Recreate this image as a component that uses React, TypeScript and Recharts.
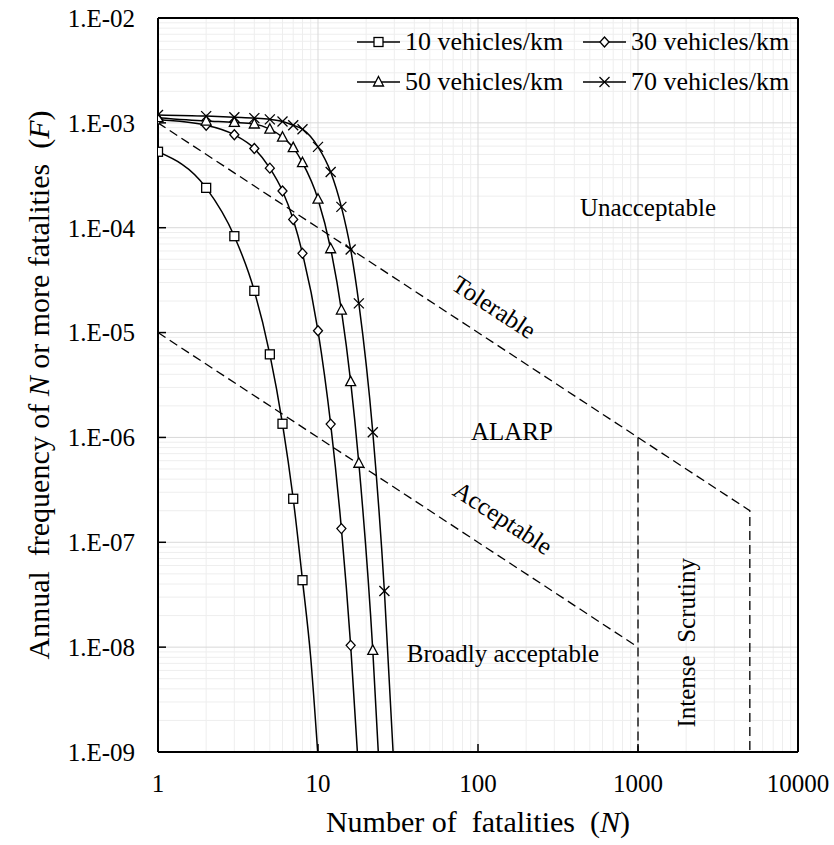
import React from 'react';
import {
  ComposedChart,
  Line,
  XAxis,
  YAxis,
  CartesianGrid,
  ReferenceLine,
  ReferenceDot,
  Legend,
  Label,
} from 'recharts';

const FONT = "Liberation Serif, Tinos, 'Times New Roman', Times, 'DejaVu Serif', serif";

// ---- axis ticks ----
const xTicks = [1, 10, 100, 1000, 10000];
const yTicks = [1e-9, 1e-8, 1e-7, 1e-6, 1e-5, 1e-4, 1e-3, 1e-2];

// ---- series: 10 vehicles/km ----
const n10 = [1, 2, 3, 4, 5, 6, 7, 8, 9, 10];
const f10 = [5.3e-4, 2.4e-4, 8.3e-5, 2.5e-5, 6.2e-6, 1.35e-6, 2.6e-7, 4.35e-8, 8e-9, 9e-10];
const mk10 = 8;

// ---- series: 30 vehicles/km ----
const n30 = [1, 2, 3, 4, 5, 6, 7, 8, 10, 12, 14, 16, 18];
const f30 = [1.07e-3, 9.5e-4, 7.7e-4, 5.7e-4, 3.7e-4, 2.24e-4, 1.2e-4, 5.7e-5, 1.04e-5, 1.34e-6, 1.35e-7, 1.04e-8, 6e-10];
const mk30 = 12;

// ---- series: 50 vehicles/km ----
const n50 = [1, 2, 3, 4, 5, 6, 7, 8, 10, 12, 14, 16, 18, 22, 24];
const f50 = [1.12e-3, 1.04e-3, 1.01e-3, 9.75e-4, 8.7e-4, 7.3e-4, 5.8e-4, 4.17e-4, 1.87e-4, 6.3e-5, 1.64e-5, 3.4e-6, 5.67e-7, 9.3e-9, 8e-10];
const mk50 = 14;

// ---- series: 70 vehicles/km ----
const n70 = [1, 2, 3, 4, 5, 6, 7, 8, 10, 12, 14, 16, 18, 22, 26, 30];
const f70 = [1.19e-3, 1.16e-3, 1.13e-3, 1.11e-3, 1.08e-3, 1.03e-3, 9.5e-4, 8.7e-4, 5.9e-4, 3.4e-4, 1.58e-4, 6.2e-5, 1.9e-5, 1.12e-6, 3.43e-8, 6e-10];
const mk70 = 15;

// ---- criterion lines ----
const tolN = [1, 5000, 5000];
const tolF = [1e-3, 2e-7, 1e-9];
const accN = [1, 1000];
const accF = [1e-5, 1e-8];
const scrN = [1000, 1000];
const scrF = [1e-6, 1e-9];

const seriesNames = ['10 vehicles/km', '30 vehicles/km', '50 vehicles/km', '70 vehicles/km'];

const build = (ns: number[], fs: number[], mk = 0) =>
  ns.map((n, i) => ({ n, f: fs[i], m: i < mk }));

const d10 = build(n10, f10, mk10);
const d30 = build(n30, f30, mk30);
const d50 = build(n50, f50, mk50);
const d70 = build(n70, f70, mk70);
const dTol = build(tolN, tolF);
const dAcc = build(accN, accF);
const dScr = build(scrN, scrF);

// gridline values
const minorX: number[] = [];
for (let d = 0; d < 4; d++) for (let k = 2; k <= 9; k++) minorX.push(k * Math.pow(10, d));
const majorX = [10, 100, 1000];
const minorY: number[] = [];
for (let e = -9; e < -2; e++) for (let k = 2; k <= 9; k++) minorY.push(k * Math.pow(10, e));
const majorY = [1e-8, 1e-7, 1e-6, 1e-5, 1e-4, 1e-3];

const SW = 1.3;

const Square = ({ cx, cy }: any) => (
  <rect x={cx - 4.5} y={cy - 4.5} width={9} height={9} fill="#fff" stroke="#000" strokeWidth={SW} />
);
const Diamond = ({ cx, cy }: any) => (
  <polygon
    points={`${cx},${cy - 5} ${cx + 4.5},${cy} ${cx},${cy + 5} ${cx - 4.5},${cy}`}
    fill="#fff"
    stroke="#000"
    strokeWidth={SW}
  />
);
const Triangle = ({ cx, cy }: any) => (
  <polygon
    points={`${cx},${cy - 5.5} ${cx + 5},${cy + 4} ${cx - 5},${cy + 4}`}
    fill="#fff"
    stroke="#000"
    strokeWidth={SW}
  />
);
const Cross = ({ cx, cy }: any) => (
  <g stroke="#000" strokeWidth={SW}>
    <line x1={cx - 5} y1={cy - 5} x2={cx + 5} y2={cy + 5} />
    <line x1={cx - 5} y1={cy + 5} x2={cx + 5} y2={cy - 5} />
  </g>
);

const shapes = [Square, Diamond, Triangle, Cross];

const makeDot = (Shape: any) => (props: any) => {
  const { cx, cy, payload, index } = props;
  if (!payload || !payload.m || cx == null || cy == null) return <g key={`e${index}`} />;
  return (
    <g key={`d${index}`}>
      <Shape cx={cx} cy={cy} />
    </g>
  );
};

const fmtY = (v: number) => {
  const e = Math.round(Math.log10(v));
  const s = Math.abs(e) < 10 ? `0${Math.abs(e)}` : `${Math.abs(e)}`;
  return `1.E${e < 0 ? '-' : '+'}${s}`;
};

const textLabel = (text: string, angle: number) => (props: any) => {
  const vb = props.viewBox || {};
  const x = (vb.x || 0) + (vb.width || 0) / 2;
  const y = (vb.y || 0) + (vb.height || 0) / 2;
  return (
    <text
      x={x}
      y={y}
      textAnchor="middle"
      dominantBaseline="central"
      style={{ fontFamily: FONT }}
      fontSize={25}
      fill="#000"
      transform={angle ? `rotate(${angle} ${x} ${y})` : undefined}
    >
      {text}
    </text>
  );
};

const XTitle = (props: any) => {
  const vb = props.viewBox;
  const x = vb.x + vb.width / 2;
  const y = vb.y + 80;
  return (
    <text x={x} y={y} textAnchor="middle" style={{ fontFamily: FONT }} fontSize={30} fill="#000">
      Number of{'\u00A0 '}fatalities{'\u00A0 '}(<tspan fontStyle="italic">N</tspan>)
    </text>
  );
};

const YTitle = (props: any) => {
  const vb = props.viewBox;
  const x = vb.x + 49;
  const y = vb.y + vb.height / 2;
  return (
    <text
      x={x}
      y={y}
      textAnchor="middle"
      style={{ fontFamily: FONT }}
      fontSize={30}
      fill="#000"
      transform={`rotate(-90 ${x} ${y})`}
    >
      Annual{'\u00A0 '}frequency of <tspan fontStyle="italic">N</tspan> or more fatalities{'\u00A0 '}(
      <tspan fontStyle="italic">F</tspan>)
    </text>
  );
};

const LegendContent = () => {
  const cols = [357, 583];
  const rows = [42, 82];
  return (
    <svg width={834} height={100} style={{ overflow: 'visible' }}>
      {seriesNames.map((name, i) => {
        const x0 = cols[i % 2];
        const y = rows[Math.floor(i / 2)];
        const Shape = shapes[i];
        return (
          <g key={name}>
            <line x1={x0} y1={y} x2={x0 + 43} y2={y} stroke="#000" strokeWidth={1.5} />
            <Shape cx={x0 + 21.5} cy={y} />
            <text x={x0 + 48} y={y + 8} style={{ fontFamily: FONT }} fontSize={26} fill="#000">
              {name}
            </text>
          </g>
        );
      })}
    </svg>
  );
};

const curve = (data: any[], Shape: any, key: string) => (
  <Line
    key={key}
    data={data}
    dataKey="f"
    type="monotone"
    stroke="#000"
    strokeWidth={1.5}
    dot={makeDot(Shape)}
    activeDot={false}
    isAnimationActive={false}
    legendType="none"
  />
);

const dashed = (data: any[], key: string) => (
  <Line
    key={key}
    data={data}
    dataKey="f"
    type="linear"
    stroke="#000"
    strokeWidth={1.3}
    strokeDasharray="9 5"
    dot={false}
    activeDot={false}
    isAnimationActive={false}
    legendType="none"
  />
);

const tickStyle = { fontFamily: FONT, fontSize: 25, fill: '#000' };

export default function App() {
  return (
    <div style={{ position: 'absolute', left: 0, top: 0, background: '#fff', fontFamily: FONT }}>
      <ComposedChart width={834} height={845} margin={{ top: 18, right: 36, left: 0, bottom: 0 }} style={{ fontFamily: FONT }}>
        <CartesianGrid stroke="#eeeeee" strokeWidth={1} horizontalValues={minorY} verticalValues={minorX} />
        <CartesianGrid stroke="#d9d9d9" strokeWidth={1} horizontalValues={majorY} verticalValues={majorX} />
        <XAxis
          dataKey="n"
          type="number"
          scale="log"
          domain={[1, 10000]}
          ticks={xTicks}
          interval={0}
          allowDataOverflow
          height={93}
          axisLine={{ stroke: '#000', strokeWidth: 2 }}
          tickLine={{ stroke: '#000', strokeWidth: 1.5 }}
          tickSize={-8}
          tickMargin={30}
          tick={tickStyle}
        >
          <Label content={XTitle} />
        </XAxis>
        <YAxis
          dataKey="f"
          type="number"
          scale="log"
          domain={[1e-9, 1e-2]}
          ticks={yTicks}
          interval={0}
          allowDataOverflow
          width={158}
          axisLine={{ stroke: '#000', strokeWidth: 2 }}
          tickLine={{ stroke: '#000', strokeWidth: 1.5 }}
          tickSize={-8}
          tickMargin={31}
          tickFormatter={fmtY}
          tick={tickStyle}
        >
          <Label content={YTitle} />
        </YAxis>
        <ReferenceLine x={10000} stroke="#000" strokeWidth={2} />
        <ReferenceLine y={1e-2} stroke="#000" strokeWidth={2} />
        {dashed(dTol, 'tol')}
        {dashed(dAcc, 'acc')}
        {dashed(dScr, 'scr')}
        {curve(d10, Square, 's10')}
        {curve(d30, Diamond, 's30')}
        {curve(d50, Triangle, 's50')}
        {curve(d70, Cross, 's70')}
        <ReferenceDot x={1155} y={1.56e-4} r={0} fill="none" stroke="none" label={{ content: textLabel('Unacceptable', 0) }} />
        <ReferenceDot x={126} y={1.75e-5} r={0} fill="none" stroke="none" label={{ content: textLabel('Tolerable', 33.2) }} />
        <ReferenceDot x={163} y={1.14e-6} r={0} fill="none" stroke="none" label={{ content: textLabel('ALARP', 0) }} />
        <ReferenceDot x={143} y={1.71e-7} r={0} fill="none" stroke="none" label={{ content: textLabel('Acceptable', 33.2) }} />
        <ReferenceDot x={143} y={8.7e-9} r={0} fill="none" stroke="none" label={{ content: textLabel('Broadly acceptable', 0) }} />
        <ReferenceDot x={2009} y={1.1e-8} r={0} fill="none" stroke="none" label={{ content: textLabel('Intense\u00A0 Scrutiny', -90) }} />
        <Legend
          content={LegendContent}
          layout="horizontal"
          verticalAlign="middle"
          align="center"
          wrapperStyle={{ left: 0, top: 0, width: 834, height: 100, pointerEvents: 'none' }}
        />
      </ComposedChart>
    </div>
  );
}
